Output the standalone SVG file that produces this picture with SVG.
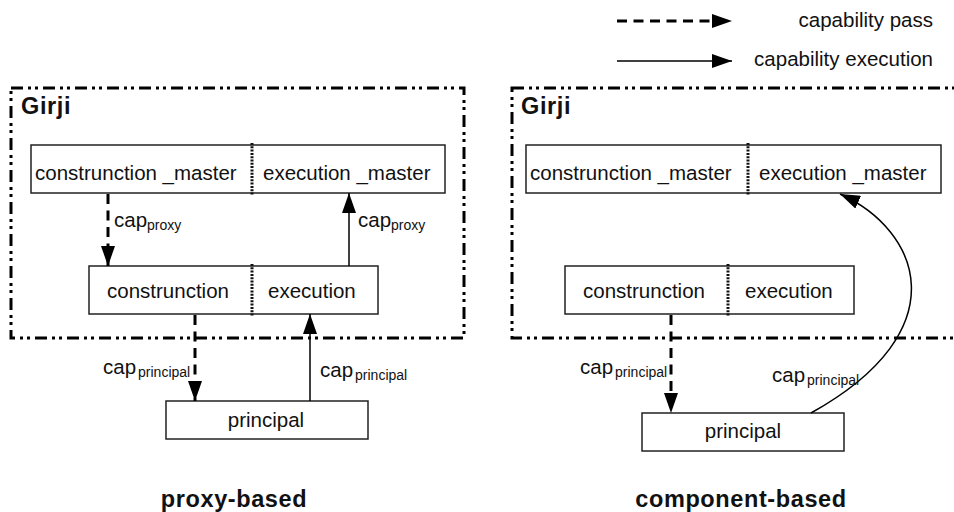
<svg xmlns="http://www.w3.org/2000/svg" width="954" height="512" viewBox="0 0 954 512">
<defs>
<marker id="ah" markerUnits="userSpaceOnUse" markerWidth="20" markerHeight="14" refX="20" refY="7" orient="auto">
<path d="M0,0 L20,7 L0,14 z" fill="#000"/>
</marker>
<style>
text{font-family:"Liberation Sans",Arial,sans-serif;fill:#111}
.lbl{font-size:20.5px}
.sub{font-size:14px}
.bold{font-weight:bold;font-size:23.5px}
.box{fill:#fff;stroke:#222;stroke-width:1.5}
.div{stroke:#111;stroke-width:3;stroke-dasharray:2 1.3}
.bound{fill:none;stroke:#000;stroke-width:3;stroke-dasharray:12 5 3 4 3 5}
.pass{fill:none;stroke:#000;stroke-width:3;stroke-dasharray:10 6.5;marker-end:url(#ah)}
.exec{fill:none;stroke:#000;stroke-width:1.5;marker-end:url(#ah)}
</style>
</defs>
<rect width="954" height="512" fill="#fff"/>

<g id="legend">
<line class="pass" x1="617" y1="21" x2="732" y2="21"/>
<text class="lbl" x="933" y="27" text-anchor="end">capability pass</text>
<line class="exec" x1="617" y1="61" x2="732" y2="61"/>
<text class="lbl" x="933" y="66" text-anchor="end">capability execution</text>
</g>

<!-- Left: proxy-based -->
<g id="girji-left">
<rect class="bound" x="11" y="88" width="453" height="250"/>
<text class="bold" x="21" y="114" letter-spacing="0.6">Girji</text>
</g>
<g id="master-left">
<rect class="box" x="31" y="145" width="414" height="48"/>
<line class="div" x1="252" y1="143" x2="252" y2="195"/>
<text class="lbl" x="35" y="180">construnction _master</text>
<text class="lbl" x="263" y="180">execution _master</text>
</g>
<g id="comp-left">
<rect class="box" x="89" y="266" width="289" height="48"/>
<line class="div" x1="252" y1="264" x2="252" y2="316"/>
<text class="lbl" x="107" y="298">construnction</text>
<text class="lbl" x="268" y="298">execution</text>
</g>
<g id="principal-left">
<rect class="box" x="166" y="401" width="202" height="38"/>
<text class="lbl" x="266" y="427" text-anchor="middle">principal</text>
</g>
<text class="bold" x="234" y="507" text-anchor="middle" letter-spacing="0.6">proxy-based</text>

<!-- Right: component-based -->
<g id="girji-right">
<rect class="bound" x="512" y="88" width="520" height="250"/>
<text class="bold" x="521" y="114" letter-spacing="0.6">Girji</text>
</g>
<g id="master-right">
<rect class="box" x="526" y="145" width="415" height="48"/>
<line class="div" x1="748" y1="143" x2="748" y2="195"/>
<text class="lbl" x="530" y="180">construnction _master</text>
<text class="lbl" x="759" y="180">execution _master</text>
</g>
<g id="comp-right">
<rect class="box" x="565" y="266" width="289" height="48"/>
<line class="div" x1="728" y1="264" x2="728" y2="316"/>
<text class="lbl" x="583" y="298">construnction</text>
<text class="lbl" x="745" y="298">execution</text>
</g>
<g id="principal-right">
<rect class="box" x="642" y="413" width="202" height="38"/>
<text class="lbl" x="743" y="438" text-anchor="middle">principal</text>
</g>
<text class="bold" x="741" y="507" text-anchor="middle" letter-spacing="0.6">component-based</text>

<g id="connectors">
<line class="pass" x1="108" y1="194" x2="108" y2="266"/>
<line class="exec" x1="349" y1="266" x2="349" y2="193"/>
<line class="pass" x1="195" y1="315" x2="195" y2="401"/>
<line class="exec" x1="310" y1="401" x2="310" y2="314"/>
<line class="pass" x1="671" y1="315" x2="671" y2="413"/>
<path class="exec" d="M811,413 C960,330 920,230 840,194"/>
</g>

<g id="labels">
<text class="lbl" x="114" y="227">cap<tspan class="sub" dy="3">proxy</tspan></text>
<text class="lbl" x="358" y="227">cap<tspan class="sub" dy="3">proxy</tspan></text>
<text class="lbl" x="103" y="374">cap<tspan class="sub" dx="2" dy="3">principal</tspan></text>
<text class="lbl" x="320" y="377">cap<tspan class="sub" dx="2" dy="3">principal</tspan></text>
<text class="lbl" x="580" y="374">cap<tspan class="sub" dx="2" dy="3">principal</tspan></text>
<text class="lbl" x="772" y="382">cap<tspan class="sub" dx="2" dy="3">principal</tspan></text>
</g>
</svg>
